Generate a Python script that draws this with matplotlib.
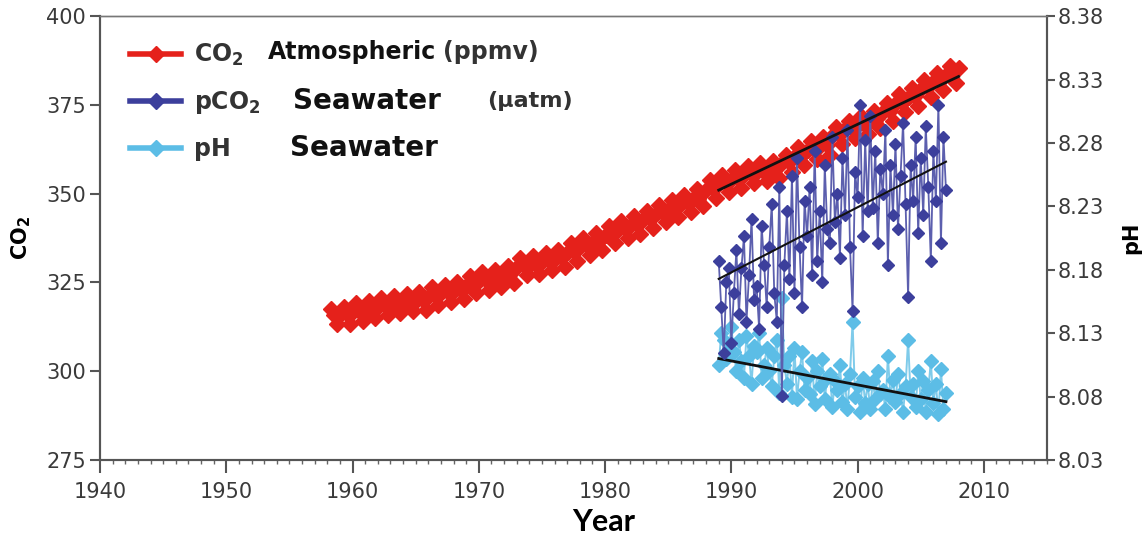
import matplotlib.pyplot as plt
from matplotlib.lines import Line2D
import numpy as np

plt.rcParams['font.family'] = ['DejaVu Sans']
plt.rcParams['mathtext.default'] = 'regular'

# atmospheric CO2 (ppmv), one reading every 3 months from Apr 1958
co2_start = 1958.29
co2_atm = [317.5, 315.9, 313.3,
           315.7, 318.2, 316.1, 313.3,
           316.6, 319.1, 317.0, 314.2,
           317.3, 319.8, 317.7, 314.9,
           318.2, 320.7, 318.6, 315.8,
           318.7, 321.2, 319.1, 316.3,
           319.3, 321.8, 319.7, 316.9,
           319.7, 322.2, 320.1, 317.3,
           321.1, 323.6, 321.5, 318.7,
           321.9, 324.4, 322.3, 319.5,
           322.7, 325.2, 323.1, 320.3,
           324.3, 326.8, 324.7, 321.9,
           325.4, 327.9, 325.8, 323.0,
           326.0, 328.5, 326.4, 323.6,
           327.2, 329.7, 327.6, 324.8,
           329.4, 331.9, 329.8, 327.0,
           329.9, 332.4, 330.3, 327.5,
           330.8, 333.3, 331.2, 328.4,
           331.7, 334.2, 332.1, 329.3,
           333.5, 336.0, 333.9, 331.1,
           335.1, 337.6, 335.5, 332.7,
           336.5, 339.0, 336.9, 334.1,
           338.4, 340.9, 338.8, 336.0,
           339.8, 342.3, 340.2, 337.4,
           341.1, 343.6, 341.5, 338.7,
           342.7, 345.2, 343.1, 340.3,
           344.3, 346.8, 344.7, 341.9,
           345.7, 348.2, 346.1, 343.3,
           347.1, 349.6, 347.5, 344.7,
           348.9, 351.4, 349.3, 346.5,
           351.3, 353.8, 351.7, 348.9,
           352.8, 355.3, 353.2, 350.4,
           354.1, 356.6, 354.5, 351.7,
           355.3, 357.8, 355.7, 352.9,
           356.1, 358.6, 356.5, 353.7,
           356.8, 359.3, 357.2, 354.4,
           358.5, 361.0, 358.9, 356.1,
           360.5, 363.0, 360.9, 358.1,
           362.3, 364.8, 362.7, 359.9,
           363.4, 365.9, 363.8, 361.0,
           366.4, 368.9, 366.8, 364.0,
           368.1, 370.6, 368.5, 365.7,
           369.3, 371.8, 369.7, 366.9,
           370.8, 373.3, 371.2, 368.4,
           372.9, 375.4, 373.3, 370.5,
           375.5, 378.0, 375.9, 373.1,
           377.2, 379.7, 377.6, 374.8,
           379.5, 382.0, 379.9, 377.1,
           381.6, 384.1, 382.0, 379.2,
           383.5, 386.0, 383.9, 381.1,
           385.3]

# seawater pCO2 (uatm) and pH, five samples a year from 1989
sea_start = 1989.0
pco2_sea = [331, 318, 305, 325, 329,
            308, 322, 334, 316, 329,
            338, 314, 327, 343, 320,
            324, 312, 341, 330, 318,
            335, 347, 322, 314, 352,
            293, 330, 345, 326, 355,
            322, 360, 335, 318, 348,
            338, 352, 327, 362, 331,
            345, 325, 358, 340, 336,
            366, 342, 350, 332, 360,
            344, 368, 335, 317, 356,
            349, 375, 338, 365, 345,
            372, 346, 362, 336, 357,
            350, 368, 330, 358, 344,
            364, 340, 355, 370, 347,
            321, 358, 348, 366, 339,
            360, 344, 369, 352, 331,
            362, 348, 375, 336, 366,
            351]
ph_sea = [8.105, 8.130, 8.125, 8.110, 8.118,
          8.135, 8.115, 8.100, 8.125, 8.108,
          8.095, 8.128, 8.112, 8.090, 8.120,
          8.115, 8.130, 8.095, 8.105, 8.118,
          8.100, 8.088, 8.112, 8.125, 8.083,
          8.158, 8.105, 8.090, 8.112, 8.080,
          8.118, 8.078, 8.100, 8.115, 8.085,
          8.095, 8.082, 8.108, 8.074, 8.100,
          8.088, 8.110, 8.078, 8.095, 8.098,
          8.072, 8.092, 8.085, 8.105, 8.076,
          8.090, 8.070, 8.098, 8.139, 8.080,
          8.088, 8.068, 8.095, 8.075, 8.090,
          8.070, 8.092, 8.078, 8.100, 8.082,
          8.085, 8.070, 8.112, 8.080, 8.093,
          8.076, 8.098, 8.083, 8.068, 8.088,
          8.125, 8.080, 8.090, 8.072, 8.100,
          8.078, 8.092, 8.068, 8.085, 8.108,
          8.075, 8.090, 8.066, 8.102, 8.070,
          8.083]

# trend lines (start / end)
trend_co2_x = [1989.0, 2008.0]
trend_co2_y = [351.0, 383.0]
trend_pco2_x = [1989.0, 2007.0]
trend_pco2_y = [326.0, 359.0]
trend_ph_x = [1989.0, 2007.0]
trend_ph_y = [8.110, 8.076]

red = '#e5211b'
navy = '#3c3f9c'
sky = '#5cbde6'
gray = '#3a3a3a'

co2_x = co2_start + 0.25 * np.arange(len(co2_atm))
sea_x = sea_start + 0.2 * np.arange(len(pco2_sea))

fig = plt.figure(figsize=(11.46, 5.37), dpi=100)
ax = fig.add_axes([0.0873, 0.1434, 0.8263, 0.8266])
ax2 = ax.twinx()
ax.set_zorder(ax2.get_zorder() + 1)
ax.patch.set_visible(False)
ax2.set_facecolor('#f2f2f2')

ax2.plot(sea_x, ph_sea, color='#7fcbea', marker='D', markersize=7, lw=1.4,
         markerfacecolor=sky, markeredgecolor=sky)
ax2.plot(trend_ph_x, trend_ph_y, color='#111111', lw=2)

ax.plot(co2_x, co2_atm, color=red, marker='D', markersize=8.5, lw=3)
ax.plot(sea_x, pco2_sea, color='#5c5fae', marker='D', markersize=6, lw=1.3,
        markerfacecolor=navy, markeredgecolor=navy)
ax.plot(trend_co2_x, trend_co2_y, color='#111111', lw=2)
ax.plot(trend_pco2_x, trend_pco2_y, color='#111111', lw=1.5)

ax.set_xlim(1940, 2015)
ax.set_ylim(275, 400)
ax2.set_ylim(8.03, 8.38)
ax.set_xticks(np.arange(1940, 2011, 10))
ax.set_xticks(np.arange(1940, 2016, 1), minor=True)
ax.set_yticks(np.arange(275, 401, 25))
ax2.set_yticks([8.03, 8.08, 8.13, 8.18, 8.23, 8.28, 8.33, 8.38])
ax2.set_yticklabels(['8.03', '8.08', '8.13', '8.18', '8.23', '8.28', '8.33', '8.38'])

for a in (ax, ax2):
    for s in a.spines.values():
        s.set_color('#555555')
        s.set_linewidth(1.5)
    a.spines['top'].set_linewidth(1.0)
    a.spines['top'].set_color('#777777')

ax.tick_params(axis='x', which='major', length=9, width=1.5, color='#555555',
               labelsize=15, labelcolor=gray, pad=7)
ax.tick_params(axis='x', which='minor', length=3, width=1, color='#666666')
ax.tick_params(axis='y', length=7, width=1.5, color='#555555',
               labelsize=15, labelcolor=gray, pad=3)
ax2.tick_params(axis='y', length=6, width=1.5, color='#555555',
                labelsize=15, labelcolor=gray, pad=2)

ax.set_ylabel('CO$_2$', fontsize=15, fontweight='bold', labelpad=10)
ax2.set_ylabel('pH', fontsize=15, fontweight='bold', labelpad=12)
ax.set_xlabel('Year', fontsize=22, fontweight='bold', family='Lato')
ax.xaxis.set_label_coords(0.532, -0.108)

handles = [Line2D([], [], color=c, marker='D', markersize=8, lw=4)
           for c in (red, navy, sky)]
leg = ax.legend(handles, ['CO$_2$', 'pCO$_2$', 'pH'], loc='upper left',
                bbox_to_anchor=(0.0095, 0.99), frameon=False, handlelength=2.15,
                handletextpad=0.55, labelspacing=0.9,
                prop={'size': 17, 'weight': 'bold'})
for t in leg.get_texts():
    t.set_color('#333333')

ax.text(0.1774, 0.919, 'Atmospheric', transform=ax.transAxes, fontsize=17,
        fontweight='bold', va='center', color='#111111')
ax.text(0.362, 0.919, '(ppmv)', transform=ax.transAxes, fontsize=17,
        fontweight='bold', va='center', color='#333333')
ax.text(0.2038, 0.809, 'Seawater', transform=ax.transAxes, fontsize=20,
        fontweight='bold', va='center', color='#111111')
ax.text(0.4087, 0.809, '(\u00b5atm)', transform=ax.transAxes, fontsize=16,
        fontweight='bold', va='center', color='#333333')
ax.text(0.2006, 0.703, 'Seawater', transform=ax.transAxes, fontsize=20,
        fontweight='bold', va='center', color='#111111')

fig.savefig('out.png', dpi=100)
